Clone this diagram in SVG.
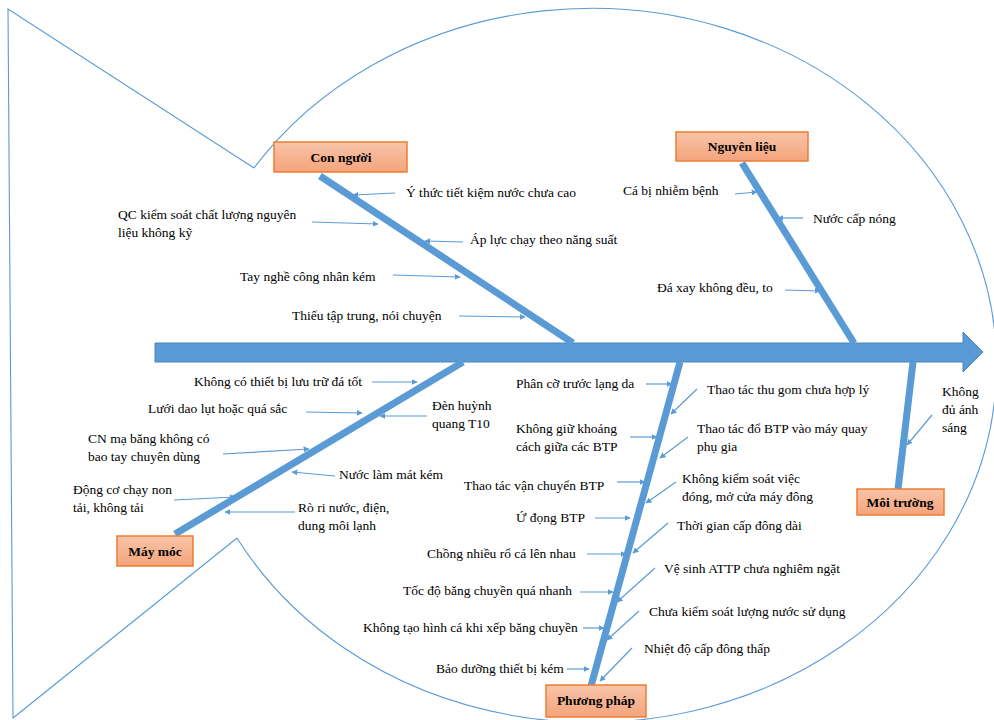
<svg xmlns="http://www.w3.org/2000/svg" width="994" height="720" viewBox="0 0 994 720">
<defs>
<linearGradient id="og" x1="0" y1="0" x2="0" y2="1">
<stop offset="0" stop-color="#F8C4A8"/>
<stop offset="1" stop-color="#F4A47C"/>
</linearGradient>
<marker id="ah" viewBox="0 0 10 10" refX="9" refY="5" markerWidth="6" markerHeight="6" orient="auto" markerUnits="userSpaceOnUse">
<path d="M0,0 L10,5 L0,10 z" fill="#5B9BD5"/>
</marker>
</defs>
<style>
.o{fill:none;stroke:#5B9BD5;stroke-width:1.1}
.bone{stroke:#5B9BD5;stroke-width:7;fill:none}
.a{stroke:#5B9BD5;stroke-width:1.2;fill:none;marker-end:url(#ah)}
.box{fill:url(#og);stroke:#ED7D31;stroke-width:1.5}
.bt{font-family:"Liberation Serif","Times New Roman",serif;font-size:13.5px;font-weight:bold;fill:#000;text-anchor:middle}
.t{font-family:"Liberation Serif","Times New Roman",serif;font-size:13.5px;fill:#000}
</style>
<rect width="994" height="720" fill="#fff"/>
<g id="fish-outline">
<path class="o" d="M254,168 L8,9 L13,718 L237,538"/>
<path class="o" d="M254,168 A405,357 0 1,1 237,538"/>
</g>
<g id="connectors">
<path d="M155,343 L963,343 L963,332 L983,352 L963,372 L963,362 L155,362 Z" fill="#5B9BD5" stroke="#4A84BC" stroke-width="1"/>
<line class="bone" x1="320" y1="176" x2="573" y2="343"/>
<line class="bone" x1="742" y1="163" x2="854" y2="343"/>
<line class="bone" x1="463" y1="362" x2="175" y2="534"/>
<line class="bone" x1="680" y1="362" x2="591" y2="686"/>
<line class="bone" x1="913" y1="362" x2="898" y2="489"/>
<line class="a" x1="395" y1="193" x2="353" y2="195"/>
<line class="a" x1="312" y1="222" x2="378" y2="224"/>
<line class="a" x1="463" y1="242" x2="425" y2="241"/>
<line class="a" x1="393" y1="275" x2="460" y2="277"/>
<line class="a" x1="459" y1="316" x2="525" y2="317"/>
<line class="a" x1="735" y1="194" x2="757" y2="192"/>
<line class="a" x1="803" y1="218" x2="778" y2="218"/>
<line class="a" x1="785" y1="290" x2="820" y2="291"/>
<line class="a" x1="372" y1="382" x2="417" y2="382"/>
<line class="a" x1="306" y1="412" x2="362" y2="413"/>
<line class="a" x1="427" y1="416" x2="380" y2="416"/>
<line class="a" x1="223" y1="454" x2="309" y2="449"/>
<line class="a" x1="335" y1="476" x2="292" y2="472"/>
<line class="a" x1="174" y1="500" x2="235" y2="497"/>
<line class="a" x1="295" y1="512" x2="225" y2="512"/>
<line class="a" x1="646" y1="384" x2="672" y2="384"/>
<line class="a" x1="630" y1="437" x2="657" y2="437"/>
<line class="a" x1="617" y1="482" x2="645" y2="482"/>
<line class="a" x1="595" y1="518" x2="630" y2="518"/>
<line class="a" x1="587" y1="554" x2="626" y2="554"/>
<line class="a" x1="580" y1="592" x2="613" y2="592"/>
<line class="a" x1="583" y1="628" x2="604" y2="628"/>
<line class="a" x1="567" y1="669" x2="589" y2="669"/>
<line class="a" x1="697" y1="389" x2="671" y2="414"/>
<line class="a" x1="688" y1="437" x2="660" y2="458"/>
<line class="a" x1="676" y1="482" x2="646" y2="503"/>
<line class="a" x1="668" y1="523" x2="633" y2="553"/>
<line class="a" x1="655" y1="568" x2="617" y2="602"/>
<line class="a" x1="639" y1="611" x2="607" y2="640"/>
<line class="a" x1="632" y1="648" x2="600" y2="681"/>
<line class="a" x1="932" y1="415" x2="907" y2="445"/>
</g>
<g id="con-nguoi"><rect class="box" x="274" y="142" width="133" height="30"/><text class="bt" x="341" y="162">Con người</text></g>
<g id="nguyen-lieu"><rect class="box" x="676" y="132" width="132" height="29"/><text class="bt" x="742" y="151">Nguyên liệu</text></g>
<g id="may-moc"><rect class="box" x="117" y="536" width="76" height="30"/><text class="bt" x="155" y="556">Máy móc</text></g>
<g id="moi-truong"><rect class="box" x="857" y="489" width="87" height="26"/><text class="bt" x="900" y="507">Môi trường</text></g>
<g id="phuong-phap"><rect class="box" x="546" y="685" width="100" height="32"/><text class="bt" x="596" y="705">Phương pháp</text></g>
<g id="cause-con-nguoi">
<text class="t" x="406" y="197">Ý thức tiết kiệm nước chưa cao</text>
<text class="t" x="118" y="219">QC kiểm soát chất lượng nguyên</text>
<text class="t" x="118" y="237">liệu không kỹ</text>
<text class="t" x="470" y="244">Áp lực chạy theo năng suất</text>
<text class="t" x="240" y="281">Tay nghề công nhân kém</text>
<text class="t" x="292" y="320">Thiếu tập trung, nói chuyện</text>
</g>
<g id="cause-nguyen-lieu">
<text class="t" x="623" y="195">Cá bị nhiễm bệnh</text>
<text class="t" x="813" y="223">Nước cấp nóng</text>
<text class="t" x="657" y="292">Đá xay không đều, to</text>
</g>
<g id="cause-may-moc">
<text class="t" x="194" y="386">Không có thiết bị lưu trữ đá tốt</text>
<text class="t" x="148" y="413">Lưới dao lụt hoặc quá sắc</text>
<text class="t" x="432" y="410">Đèn huỳnh</text>
<text class="t" x="432" y="428">quang T10</text>
<text class="t" x="88" y="443">CN mạ băng không có</text>
<text class="t" x="88" y="461">bao tay chuyên dùng</text>
<text class="t" x="339" y="479">Nước làm mát kém</text>
<text class="t" x="73" y="494">Động cơ chạy non</text>
<text class="t" x="73" y="512">tải, không tải</text>
<text class="t" x="298" y="512">Rò ri nước, điện,</text>
<text class="t" x="298" y="530">dung môi lạnh</text>
</g>
<g id="cause-phuong-phap">
<text class="t" x="516" y="388">Phân cỡ trước lạng da</text>
<text class="t" x="516" y="433">Không giữ khoảng</text>
<text class="t" x="516" y="451">cách giữa các BTP</text>
<text class="t" x="464" y="490">Thao tác vận chuyển BTP</text>
<text class="t" x="516" y="522">Ứ đọng BTP</text>
<text class="t" x="427" y="558">Chồng nhiều rổ cá lên nhau</text>
<text class="t" x="403" y="595">Tốc độ băng chuyền quá nhanh</text>
<text class="t" x="363" y="632">Không tạo hình cá khi xếp băng chuyền</text>
<text class="t" x="436" y="673">Bảo dưỡng thiết bị kém</text>
<text class="t" x="707" y="394">Thao tác thu gom chưa hợp lý</text>
<text class="t" x="697" y="433">Thao tác đổ BTP vào máy quay</text>
<text class="t" x="697" y="451">phụ gia</text>
<text class="t" x="682" y="483">Không kiểm soát việc</text>
<text class="t" x="682" y="501">đóng, mở cửa máy đông</text>
<text class="t" x="677" y="530">Thời gian cấp đông dài</text>
<text class="t" x="664" y="573">Vệ sinh ATTP chưa nghiêm ngặt</text>
<text class="t" x="649" y="616">Chưa kiểm soát lượng nước sử dụng</text>
<text class="t" x="644" y="653">Nhiệt độ cấp đông thấp</text>
</g>
<g id="cause-moi-truong">
<text class="t" x="942" y="396">Không</text>
<text class="t" x="942" y="414">đủ ánh</text>
<text class="t" x="942" y="432">sáng</text>
</g>
</svg>
